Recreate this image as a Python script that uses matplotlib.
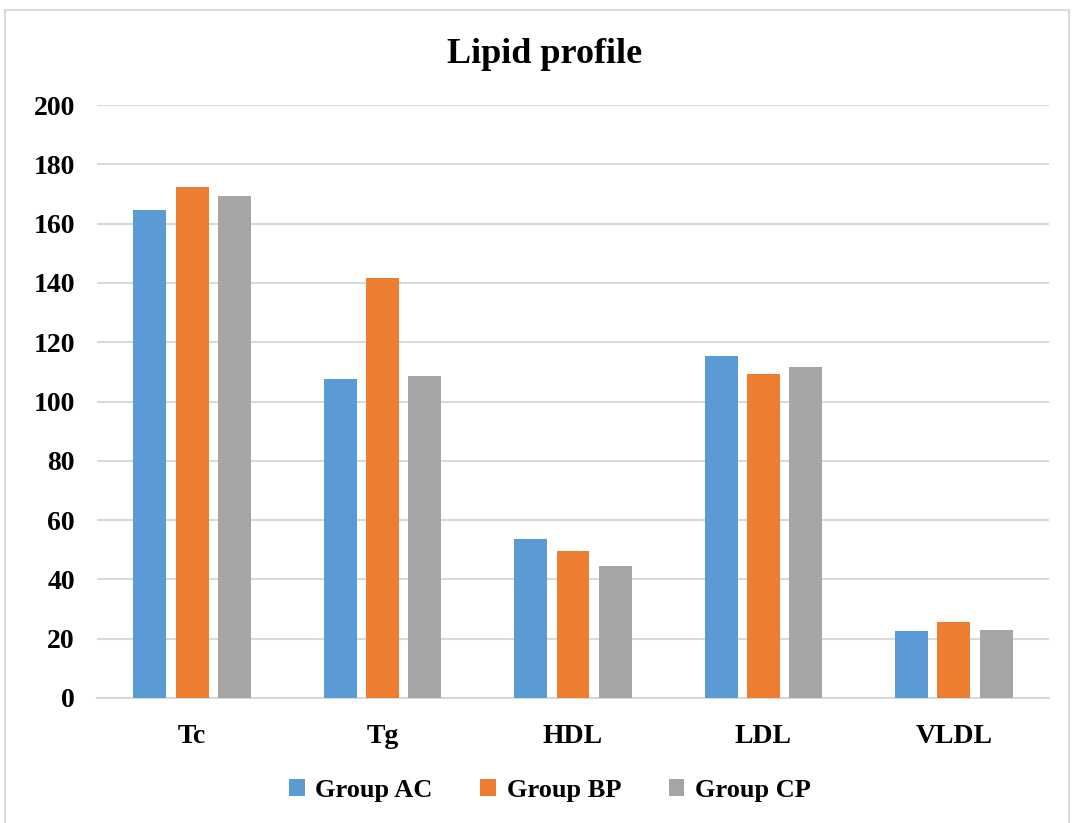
import matplotlib.pyplot as plt
import matplotlib.patches as mpatches
import numpy as np

plt.rcParams['font.family'] = ['Liberation Serif', 'DejaVu Serif']
plt.rcParams['font.weight'] = 'bold'

# Lipid values per group (mg/dL)
categories = ['Tc', 'Tg', 'HDL', 'LDL', 'VLDL']
group_ac = [164.6, 107.6, 53.6, 115.3, 22.6]
group_bp = [172.3, 141.7, 49.6, 109.3, 25.6]
group_cp = [169.3, 108.6, 44.5, 111.6, 22.9]
series_names = ['Group AC', 'Group BP', 'Group CP']
colors = ['#5b9bd5', '#ed7d31', '#a5a5a5']
y_ticks = [0, 20, 40, 60, 80, 100, 120, 140, 160, 180, 200]

fig = plt.figure(figsize=(10.74, 8.23), dpi=100)
ax = fig.add_axes([0.0903, 0.1519, 0.8864, 0.7205])

# chart frame
fig.patches.append(mpatches.Rectangle((0.005, -0.01), 0.99, 0.998, transform=fig.transFigure,
                                      fill=False, edgecolor='#d9d9d9', linewidth=1.5))

x = np.arange(len(categories))
width = 0.173
step = 0.222
for i, (vals, name, c) in enumerate(zip([group_ac, group_bp, group_cp], series_names, colors)):
    ax.bar(x + (i - 1) * step, vals, width, color=c, label=name, zorder=3)

ax.set_xlim(-0.5, len(categories) - 0.5)
ax.set_ylim(0, 200)
ax.set_yticks(y_ticks)
ax.set_yticklabels([str(t) for t in y_ticks], fontsize=20, fontweight='bold')
ax.set_xticks(x)
ax.set_xticklabels(categories, fontsize=20, fontweight='bold')
ax.tick_params(axis='both', length=0)
ax.tick_params(axis='y', pad=16)
ax.tick_params(axis='x', pad=19)

ax.grid(axis='y', color='#d9d9d9', linewidth=1.5, zorder=0)
for side in ['top', 'right', 'left']:
    ax.spines[side].set_visible(False)
ax.spines['bottom'].set_color('#d9d9d9')
ax.spines['bottom'].set_linewidth(1.5)

fig.text(0.507, 0.934, 'Lipid profile', ha='center', va='center', fontsize=26, fontweight='bold')

leg = fig.legend(loc='center', bbox_to_anchor=(0.512, 0.04), ncol=3, frameon=False,
                 prop={'size': 19, 'weight': 'bold'}, handlelength=0.6, handleheight=0.6,
                 handletextpad=0.4, columnspacing=1.8)

fig.savefig('out.png', dpi=100)
